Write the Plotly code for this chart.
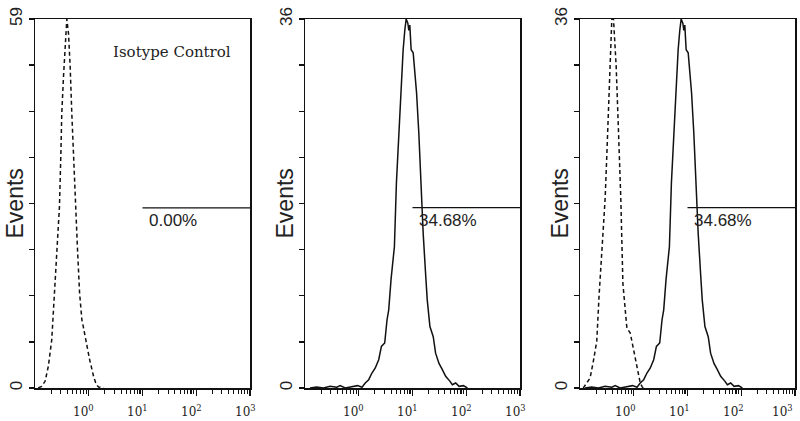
import math
import plotly.graph_objects as go

# ---------------- data ----------------
iso_x = [0.115, 0.133, 0.154, 0.177, 0.205, 0.226, 0.237, 0.273, 0.285, 0.302,
         0.315, 0.339, 0.364, 0.379, 0.391, 0.420, 0.433, 0.451, 0.484, 0.521,
         0.560, 0.618, 0.675, 0.745, 0.800, 0.897, 1.04, 1.23, 1.38, 1.53, 1.76, 1.89]
iso_counts = [0, 0.27, 1.07, 3.46, 7.72, 14.1, 15.2, 24.8, 29.0, 37.0,
              43.9, 49.8, 55.6, 59, 59, 56.7, 55.1, 51.4, 43.9, 36.5,
              30.1, 22.1, 15.2, 10.9, 9.6, 7.2, 4.5, 1.86, 0.53, 0.16, 0.05, 0]

overlay_iso_x = [0.115, 0.133, 0.154, 0.177, 0.205, 0.226, 0.254, 0.293, 0.315, 0.339,
                 0.364, 0.391, 0.420, 0.471, 0.521, 0.575, 0.628, 0.745, 0.861, 0.993,
                 1.15, 1.32, 1.42, 1.50]
overlay_iso_counts = [0, 0.49, 0.97, 2.6, 4.55, 8.93, 13.5, 18.4, 22.6, 27.1,
                      31.4, 36, 36, 31.4, 24.9, 18.4, 10.2, 5.85, 5.36, 3.74,
                      2.11, 0.49, 0.16, 0]

stain_x = [0.124, 0.165, 0.220, 0.293, 0.391, 0.451, 0.560, 0.745, 0.951, 1.15,
           1.32, 1.53, 1.76, 2.03, 2.35, 2.64, 3.04, 3.36, 3.61, 3.99,
           4.48, 4.61, 5.02, 5.56, 6.14, 6.70, 7.19, 7.62, 8.19, 8.54,
           8.91, 9.44, 10.3, 10.9, 11.9, 13.1, 14.5, 15.8, 17.5, 18.8,
           21.1, 24.3, 26.9, 31.1, 35.9, 41.4, 49.9, 55.1, 63.6, 73.5, 88.5, 105]
stain_counts = [0, 0.1, 0, 0.16, 0.07, 0.23, 0, 0.1, 0.23, 0.07,
                0.49, 0.81, 1.46, 1.95, 2.76, 4.06, 4.39, 6.66, 7.63, 10.6,
                13.2, 13.8, 20.0, 24.9, 29.7, 33.0, 34.9, 36, 35.6, 34.9,
                35.4, 33.0, 32.7, 31.4, 28.8, 24.9, 19.0, 15.1, 11.2, 8.6,
                6.0, 5.0, 3.4, 2.4, 1.8, 1.14, 0.65, 0.32, 0.49, 0.16, 0.23, 0]

y_max = [59, 36, 36]
gate_range = [10, 1000]
gate_level = [28.8, 17.6, 17.6]
gate_labels = ["0.00%", "34.68%", "34.68%"]

x_tickvals = [1, 10, 100, 1000]
x_ticktext = ["10<sup>0</sup>", "10<sup>1</sup>", "10<sup>2</sup>", "10<sup>3</sup>"]
x_minor = [m * d for d in (0.1, 1, 10, 100) for m in range(2, 10)]

# ---------------- layout geometry ----------------
W, H = 800, 421
panels_px = [(35, 250), (305, 520), (580, 795)]
label_shift = [-5, -5, -8]
top_px, bottom_px = 19, 388
ydom = [1 - bottom_px / H, 1 - top_px / H]

fig = go.Figure()

series = [
    [(iso_x, iso_counts, "dash")],
    [(stain_x, stain_counts, "solid")],
    [(overlay_iso_x, overlay_iso_counts, "dash"), (stain_x, stain_counts, "solid")],
]

black = "#111111"
annotations = []
for i in range(3):
    sfx = "" if i == 0 else str(i + 1)
    xa, ya = "x" + sfx, "y" + sfx
    for xs, ys, dash in series[i]:
        fig.add_trace(go.Scatter(
            x=xs, y=ys, xaxis=xa, yaxis=ya, mode="lines",
            line=dict(color=black, width=1.5,
                      dash="4px,3px" if dash == "dash" else "solid"),
            hoverinfo="skip"))
    # gate line
    fig.add_trace(go.Scatter(
        x=gate_range, y=[gate_level[i]] * 2, xaxis=xa, yaxis=ya, mode="lines",
        line=dict(color=black, width=1.2), hoverinfo="skip"))

    l, r = panels_px[i]
    y_minor = [y_max[i] * k / 8 for k in range(1, 8)]
    fig.update_layout(**{
        "xaxis" + sfx: dict(
            domain=[l / W, r / W], anchor=ya, type="log", range=[-1, 3],
            tickvals=x_tickvals, showticklabels=False, ticks="outside",
            ticklen=6, tickwidth=1.3, tickcolor=black,
            showline=True, linecolor=black, linewidth=1.5, mirror=True,
            showgrid=False, zeroline=False,
            minor=dict(tickvals=x_minor, ticks="outside", ticklen=4,
                       tickwidth=1.1, tickcolor=black, showgrid=False)),
        "yaxis" + sfx: dict(
            domain=ydom, anchor=xa, range=[0, y_max[i]],
            tickvals=[0, y_max[i]], ticktext=["0", str(y_max[i])],
            ticks="outside", ticklen=5,
            tickwidth=1.3, tickcolor=black, tickangle=-90,
            showline=True, linecolor=black, linewidth=1.5, mirror=True,
            showgrid=False, zeroline=False, ticklabeloverflow="allow",
            minor=dict(tickvals=y_minor, ticks="outside", ticklen=5,
                       tickwidth=1.3, tickcolor=black, showgrid=False),
            tickfont=dict(family="Liberation Sans, Arial", size=17, color="#222")),
    })
    # x tick labels as annotations placed at the log tick positions
    for j, (v, t) in enumerate(zip(x_tickvals, x_ticktext)):
        last_edge = (i == 2 and j == len(x_tickvals) - 1)
        annotations.append(dict(
            text=t, xref=xa, yref=ya + " domain", x=math.log10(v), y=0,
            xshift=0 if last_edge else label_shift[i], yshift=-13,
            xanchor="right" if last_edge else "center", yanchor="top",
            showarrow=False,
            font=dict(family="DejaVu Serif", size=12, color="#222")))
    annotations.append(dict(
        text="Events", textangle=-90, xref=xa + " domain", yref=ya + " domain",
        x=0, y=0.5, xshift=-21, xanchor="center", yanchor="middle", showarrow=False,
        font=dict(family="Liberation Sans, Arial", size=23, color="#222")))
    annotations.append(dict(
        text=gate_labels[i], xref=xa, yref=ya, x=1, y=gate_level[i],
        xshift=4, yshift=-13, xanchor="left", yanchor="middle", showarrow=False,
        font=dict(family="Liberation Sans, Arial", size=17, color="#222")))

annotations.append(dict(
    text="Isotype Control", xref="x domain", yref="y domain", x=0.355, y=0.911,
    xanchor="left", yanchor="middle", showarrow=False,
    font=dict(family="DejaVu Serif", size=15, color="#222")))

fig.update_layout(
    width=W, height=H, margin=dict(l=0, r=0, t=0, b=0, autoexpand=False),
    paper_bgcolor="white", plot_bgcolor="white", showlegend=False,
    annotations=annotations)

fig.write_html(
    "out.html",
    config={"displayModeBar": False, "staticPlot": True},
    post_script="document.body.style.margin='0px';document.body.style.overflow='hidden';")
